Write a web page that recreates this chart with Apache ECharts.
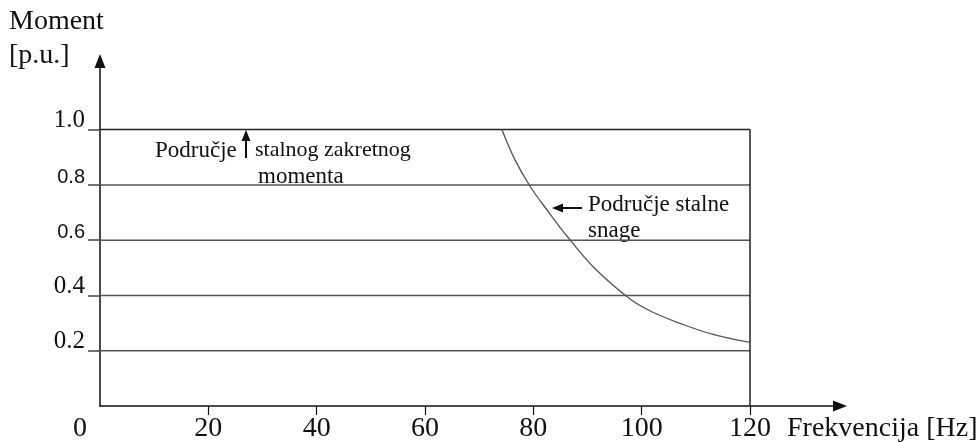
<!DOCTYPE html>
<html><head><meta charset="utf-8">
<script src="https://cdn.jsdelivr.net/npm/echarts@6/dist/echarts.min.js"></script>
<style>html,body{margin:0;padding:0;background:#fff}#c{width:980px;height:443px}</style>
</head><body><div id="c"></div>
<script>
// ---- data ----
const xTicks = [0, 20, 40, 60, 80, 100, 120];
const yTicks = [0.2, 0.4, 0.6, 0.8, 1.0];
const yTickFontKind = ['serif', 'serif', 'sans', 'sans', 'serif'];
const gridLevels = [0.2, 0.4, 0.6, 0.8, 1.0];
const freqMax = 120;
const curveFreq   = [74.2, 76.5, 79.4, 82.5, 86.2, 91.0, 97.8, 102.0, 107.1, 113.0, 120];
const curveMoment = [1.0, 0.895, 0.795, 0.71, 0.615, 0.505, 0.388, 0.34, 0.299, 0.26, 0.23];

// ---- chart ----
const chart = echarts.init(document.getElementById('c'), null, {renderer: 'canvas'});
const SERIF = 'Liberation Serif';
const SANS = 'Liberation Sans';
const xAxisMax = freqMax * 740 / 650;
const yAxisMax = 347 / 278;

const series = [];
gridLevels.forEach(function (v, i) {
  series.push({
    type: 'line', silent: true, symbol: 'none', animation: false,
    data: [[0, v], [freqMax, v]],
    lineStyle: {color: i === gridLevels.length - 1 ? '#222' : '#555', width: 1.5}
  });
});
series.push({
  type: 'line', silent: true, symbol: 'none', animation: false,
  data: [[freqMax, 0], [freqMax, gridLevels[gridLevels.length - 1]]],
  lineStyle: {color: '#222', width: 1.5}
});
series.push({
  type: 'line', silent: true, symbol: 'none', animation: false, smooth: 0.4,
  data: curveFreq.map(function (f, i) { return [f, curveMoment[i]]; }),
  lineStyle: {color: '#555', width: 1.3}
});

chart.setOption({
  animation: false,
  backgroundColor: '#fff',
  textStyle: {fontFamily: SERIF, color: '#111'},
  grid: {left: 100, right: 140, top: 61, bottom: 35, containLabel: false},
  xAxis: {
    type: 'value', min: 0, max: xAxisMax,
    axisLine: {show: true, symbol: ['none', 'triangle'], symbolSize: [11, 14], lineStyle: {color: '#111', width: 1.5}},
    axisTick: {show: true, length: 9, customValues: xTicks.slice(1), lineStyle: {color: '#111', width: 1.2}},
    axisLabel: {
      customValues: xTicks, margin: 9, fontFamily: SERIF, fontSize: 28, color: '#111',
      formatter: function (v) { return v === 0 ? '{z|0}' : String(v); },
      rich: {z: {fontFamily: SERIF, fontSize: 28, color: '#111', padding: [0, 40, 0, 0]}}
    },
    splitLine: {show: false}
  },
  yAxis: {
    type: 'value', min: 0, max: yAxisMax,
    axisLine: {show: true, symbol: ['none', 'triangle'], symbolSize: [11, 14], lineStyle: {color: '#111', width: 1.5}},
    axisTick: {show: true, length: 12, customValues: yTicks, lineStyle: {color: '#444', width: 1.5}},
    axisLabel: {
      customValues: yTicks, margin: 15, verticalAlign: 'bottom',
      formatter: function (v) {
        const i = yTicks.indexOf(v);
        return (yTickFontKind[i] === 'sans' ? '{s|' : '{t|') + v.toFixed(1) + '}';
      },
      rich: {
        t: {fontFamily: SERIF, fontSize: 25, color: '#111', lineHeight: 19},
        s: {fontFamily: SANS, fontSize: 20, color: '#111', lineHeight: 15}
      }
    },
    splitLine: {show: false}
  },
  series: series,
  graphic: [
    {type: 'text', left: 9, top: 8, style: {text: 'Moment', font: '28px "Liberation Serif"', fill: '#111'}},
    {type: 'text', left: 9, top: 42, style: {text: '[p.u.]', font: '28px "Liberation Serif"', fill: '#111'}},
    {type: 'text', left: 787, top: 415, style: {text: 'Frekvencija [Hz]', font: '28px "Liberation Serif"', fill: '#111'}},
    {type: 'text', left: 155, top: 139, style: {text: 'Područje', font: '23px "Liberation Serif"', fill: '#111'}},
    {type: 'text', left: 255, top: 139, style: {text: 'stalnog zakretnog', font: '22px "Liberation Serif"', fill: '#111'}},
    {type: 'text', left: 258, top: 165, style: {text: 'momenta', font: '23px "Liberation Serif"', fill: '#111'}},
    {type: 'text', left: 588, top: 193, style: {text: 'Područje stalne', font: '23px "Liberation Serif"', fill: '#111'}},
    {type: 'text', left: 588, top: 219, style: {text: 'snage', font: '23px "Liberation Serif"', fill: '#111'}},
    {type: 'line', shape: {x1: 246, y1: 158, x2: 246, y2: 140}, style: {stroke: '#111', lineWidth: 2}},
    {type: 'polygon', shape: {points: [[241.5, 141], [250.5, 141], [246, 130]]}, style: {fill: '#111'}},
    {type: 'line', shape: {x1: 582, y1: 208, x2: 562, y2: 208}, style: {stroke: '#111', lineWidth: 2}},
    {type: 'polygon', shape: {points: [[563, 203.5], [563, 212.5], [552, 208]]}, style: {fill: '#111'}}
  ]
});
</script>
</body></html>
